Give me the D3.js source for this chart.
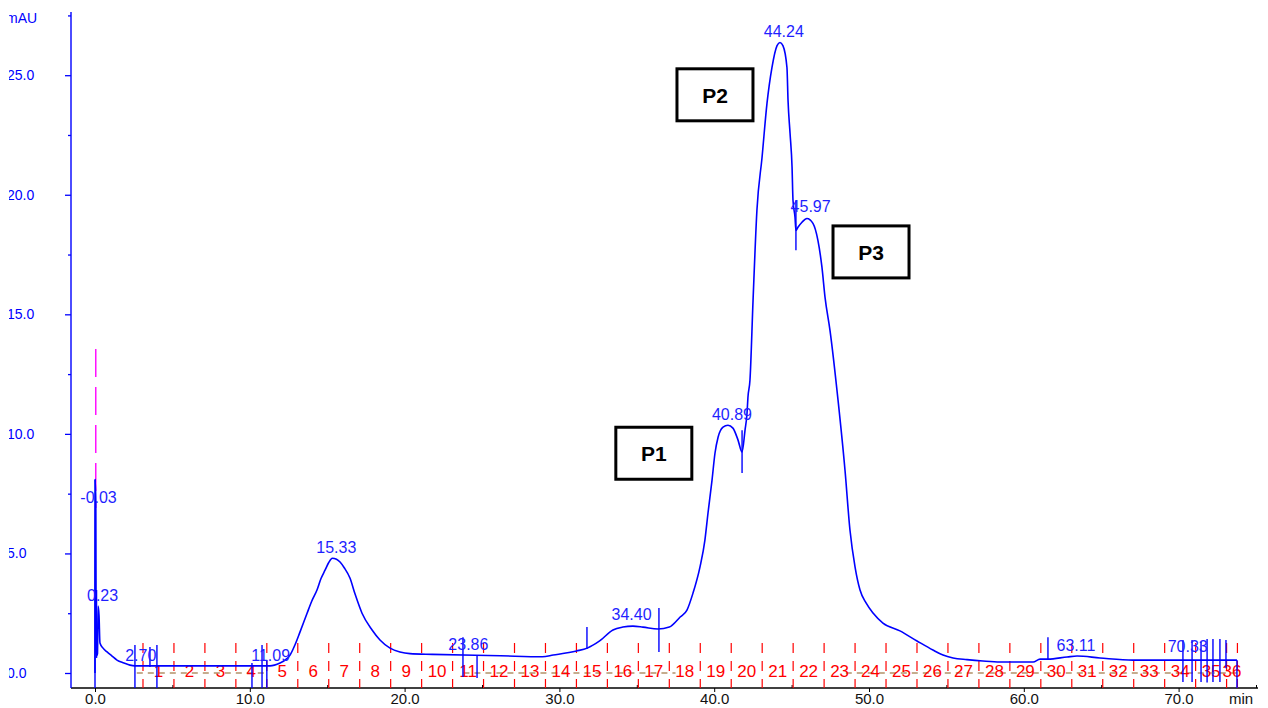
<!DOCTYPE html>
<html>
<head>
<meta charset="utf-8">
<script src="https://cdn.jsdelivr.net/npm/d3@7"></script>
<style>
  body { margin: 0; background: #fff; }
  svg { display: block; font-family: 'Liberation Sans', Arial, sans-serif; }
</style>
</head>
<body>
<div id="chart"></div>
<script>
// chromatogram trace: [time (min), absorbance (mAU)]
const signalPoints = [
  [0, 0], [0.01, 8.1], [0.05, 7.2], [0.08, 0.7], [0.16, 0.8], [0.2, 2.8], [0.26, 2.4],
  [0.32, 1.25], [0.52, 1.04], [0.78, 0.88], [1.1, 0.71], [1.42, 0.54], [1.87, 0.42],
  [2.26, 0.33], [2.58, 0.3], [11.3, 0.3], [11.95, 0.42], [12.3, 0.55], [12.6, 0.75],
  [12.9, 1.15], [13.24, 1.71], [13.7, 2.5], [14.0, 3.0], [14.34, 3.47], [14.6, 3.95],
  [14.86, 4.3], [15.1, 4.62], [15.33, 4.8], [15.6, 4.76], [15.83, 4.64], [16.1, 4.4],
  [16.47, 3.97], [16.8, 3.3], [17.25, 2.5], [17.9, 1.8], [18.41, 1.38], [19.06, 1.04],
  [19.7, 0.88], [20.35, 0.81], [21.8, 0.78], [26.2, 0.72], [28.9, 0.68], [29.6, 0.75],
  [31.1, 0.92], [31.8, 1.04], [32.6, 1.34], [33.46, 1.8], [34.1, 1.92], [34.75, 1.96],
  [35.4, 1.92], [36.37, 1.84], [37.1, 1.92], [37.8, 2.34], [38.24, 2.63], [38.63, 3.34],
  [39.08, 4.43], [39.4, 5.56], [39.6, 6.69], [39.86, 8.07], [40.05, 9.19], [40.25, 9.86],
  [40.57, 10.28], [40.89, 10.36], [41.21, 10.24], [41.54, 9.74], [41.8, 9.24], [41.99, 10.15],
  [42.12, 10.86], [42.18, 11.53], [42.31, 12.24], [42.51, 15.59], [42.76, 19.35], [43.09, 21.56],
  [43.41, 23.82], [43.73, 25.32], [44.06, 26.24], [44.25, 26.37], [44.44, 26.24], [44.7, 25.32],
  [44.77, 23.94], [44.9, 22.57], [45.03, 21.14], [45.09, 19.77], [45.22, 19.06], [45.28, 18.51],
  [45.41, 18.64], [45.67, 18.85], [45.99, 19.01], [46.38, 18.8], [46.7, 18.09], [46.96, 16.97],
  [47.16, 15.71], [47.48, 14.33], [48.0, 11.41], [48.45, 8.48], [48.77, 5.98], [49.1, 4.43],
  [49.42, 3.47], [49.81, 2.93], [50.26, 2.51], [50.9, 2.09], [52.0, 1.76], [53.1, 1.34],
  [54.13, 0.96], [54.78, 0.75], [55.43, 0.63], [56.33, 0.56], [57.36, 0.5], [58.46, 0.46],
  [60.6, 0.46], [61.05, 0.58], [61.56, 0.58], [62.8, 0.67], [63.44, 0.71], [64.92, 0.63],
  [67.05, 0.54], [73.77, 0.54]
];

// peak retention-time labels: [text, time, label baseline (mAU)]
const peakLabels = [
  ['-0.03', -0.03, 7.1], ['0.23', 0.23, 3.0], ['2.70', 2.70, 0.5], ['11.09', 11.09, 0.5],
  ['15.33', 15.33, 5.0], ['23.86', 23.86, 0.96], ['34.40', 34.40, 2.2], ['40.89', 40.89, 10.57],
  ['44.24', 44.24, 26.6], ['45.97', 45.97, 19.26], ['63.11', 63.11, 0.92], ['70.33', 70.33, 0.88]
];

// integration tick marks: [time, top (mAU), bottom (mAU)]
const peakMarks = [
  [0.0, 8.1, -0.63], [0.1, 3.47, 0.63], [2.58, 1.17, -0.63], [3.55, 1.09, 0.25], [4.0, 1.17, -0.63],
  [10.14, 0.42, -0.63], [10.79, 1.17, -0.63], [11.1, 0.54, -0.63], [23.77, 1.5, -0.17],
  [24.68, 0.75, -0.21], [31.78, 1.92, 1.0], [36.43, 2.72, 0.88], [41.8, 10.15, 8.36],
  [45.28, 19.77, 17.68], [61.56, 1.5, 0.54], [70.28, 1.38, -0.38], [70.87, 1.38, -0.38],
  [71.45, 1.3, -0.38], [71.84, 1.42, -0.4], [72.22, 1.42, -0.38], [72.67, 1.42, -0.38],
  [73.06, 1.38, 0.2], [73.77, 0.54, -0.63]
];

// injection event marker: [time, top, bottom]
const eventMark = [0.05, 13.55, 6.9];

// fraction collector
const fractionStarts = [3.1, 5.1, 7.1, 9.1, 11.1, 13.1, 15.1, 17.1, 19.1, 21.1, 23.1, 25.1,
  27.1, 29.1, 31.1, 33.1, 35.1, 37.1, 39.1, 41.1, 43.1, 45.1, 47.1, 49.1, 51.1, 53.1,
  55.1, 57.1, 59.1, 61.1, 63.1, 65.1, 67.1, 69.1, 71.1, 73.1];
const fractionEnd = 73.8;
const fractionNames = ['1', '2', '3', '4', '5', '6', '7', '8', '9', '10', '11', '12', '13', '14',
  '15', '16', '17', '18', '19', '20', '21', '22', '23', '24', '25', '26', '27', '28', '29', '30',
  '31', '32', '33', '34', '35', '36'];

// integration baselines (time ranges at 0 mAU)
const baselineRanges = [[2.7, 11.1], [23.8, 37.5], [48.5, 73.8]];

// boxed annotations
const boxNames = ['P1', 'P2', 'P3'];
const boxTimes = [36.1, 40.05, 50.13];
const boxLevels = [9.19, 24.18, 17.61];

// axes
const xMajor = [0, 10, 20, 30, 40, 50, 60, 70];
const xTickLabels = ['0.0', '10.0', '20.0', '30.0', '40.0', '50.0', '60.0', '70.0'];
const xMinor = [5, 15, 25, 35, 45, 55, 65, 75];
const yMajor = [0, 5, 10, 15, 20, 25];
const yTickLabels = ['0.0', '5.0', '10.0', '15.0', '20.0', '25.0'];
const yMinor = [2.5, 7.5, 12.5, 17.5, 22.5, 27.5];

const width = 1268, height = 708;
const axisX = 71, axisY = 688, axisTop = 12;
const blue = '#0000ff';

const x = d3.scaleLinear().domain([0, 75]).range([95, 1256]);
const y = d3.scaleLinear().domain([0, 25]).range([673, 75.2]);

const svg = d3.select('#chart')
  .append('svg')
  .attr('width', width)
  .attr('height', height);

svg.append('rect').attr('width', width).attr('height', height).attr('fill', '#fff');

// clip for the y labels (left edge of the original screenshot is cut)
svg.append('clipPath').attr('id', 'leftcut')
  .append('rect').attr('x', 9).attr('y', 0).attr('width', 60).attr('height', height);

// x axis
svg.append('line')
  .attr('x1', axisX).attr('x2', x(75) + 2)
  .attr('y1', axisY).attr('y2', axisY)
  .attr('stroke', '#000').attr('stroke-width', 1.4);

const xAxis = svg.append('g')
  .attr('transform', 'translate(0,' + axisY + ')')
  .call(d3.axisBottom(x).tickValues(xMajor).tickSize(4).tickFormat((d, i) => xTickLabels[i]));
xAxis.select('.domain').remove();
xAxis.selectAll('line').attr('stroke', '#000');
xAxis.selectAll('text')
  .attr('y', 16).attr('dy', 0)
  .style('font-size', '15px')
  .attr('fill', '#111');

const xAxisMinor = svg.append('g')
  .attr('transform', 'translate(0,' + axisY + ')')
  .call(d3.axisBottom(x).tickValues(xMinor).tickSize(-3).tickFormat(''));
xAxisMinor.select('.domain').remove();
xAxisMinor.selectAll('line').attr('stroke', '#000');

svg.append('text')
  .attr('x', 1229).attr('y', 704)
  .style('font-size', '15px')
  .attr('fill', '#111')
  .text('min');

// y axis
svg.append('line')
  .attr('x1', axisX).attr('x2', axisX)
  .attr('y1', axisTop).attr('y2', axisY)
  .attr('stroke', blue).attr('stroke-width', 1.4);

const yAxis = svg.append('g')
  .attr('transform', 'translate(' + axisX + ',0)')
  .call(d3.axisLeft(y).tickValues(yMajor).tickSize(6).tickFormat(''));
yAxis.select('.domain').remove();
yAxis.selectAll('line').attr('stroke', blue).attr('stroke-width', 1.3);

const yAxisMinor = svg.append('g')
  .attr('transform', 'translate(' + axisX + ',0)')
  .call(d3.axisLeft(y).tickValues(yMinor).tickSize(3).tickFormat(''));
yAxisMinor.select('.domain').remove();
yAxisMinor.selectAll('line').attr('stroke', blue).attr('stroke-width', 1.3);

const yLabels = svg.append('g').attr('clip-path', 'url(#leftcut)');
yLabels.selectAll('text')
  .data(yMajor)
  .enter()
  .append('text')
  .attr('x', 7)
  .attr('y', (d) => y(d) + 5)
  .style('font-size', '14px')
  .attr('fill', blue)
  .text((d, i) => yTickLabels[i]);
yLabels.append('text')
  .attr('x', 6).attr('y', 23)
  .style('font-size', '14px')
  .attr('fill', blue)
  .text('mAU');

// fraction collector marks
const fracBounds = fractionStarts.concat([fractionEnd]);
svg.append('g')
  .selectAll('line')
  .data(fracBounds)
  .enter()
  .append('line')
  .attr('x1', (d) => x(d)).attr('x2', (d) => x(d))
  .attr('y1', y(1.25)).attr('y2', axisY)
  .attr('stroke', '#ff0000')
  .attr('stroke-width', 1.2)
  .attr('stroke-dasharray', '10,8');

svg.append('g')
  .selectAll('line')
  .data(baselineRanges)
  .enter()
  .append('line')
  .attr('x1', (d) => x(d[0])).attr('x2', (d) => x(d[1]))
  .attr('y1', y(0)).attr('y2', y(0))
  .attr('stroke', '#8c5a1e')
  .attr('stroke-width', 1.2)
  .attr('stroke-dasharray', '6,5');

svg.append('g')
  .selectAll('text')
  .data(fractionNames)
  .enter()
  .append('text')
  .attr('x', (d, i) => x((fracBounds[i] + fracBounds[i + 1]) / 2))
  .attr('y', y(-0.17))
  .attr('text-anchor', 'middle')
  .style('font-size', '17px')
  .attr('fill', '#ff0000')
  .text((d) => d);

// injection event marker
svg.append('line')
  .attr('x1', x(eventMark[0])).attr('x2', x(eventMark[0]))
  .attr('y1', y(eventMark[1])).attr('y2', y(eventMark[2]))
  .attr('stroke', '#ff00ff')
  .attr('stroke-width', 1.4)
  .attr('stroke-dasharray', '28,10');

// peak tick marks
svg.append('g')
  .selectAll('line')
  .data(peakMarks)
  .enter()
  .append('line')
  .attr('x1', (d) => x(d[0])).attr('x2', (d) => x(d[0]))
  .attr('y1', (d) => y(d[1])).attr('y2', (d) => y(d[2]))
  .attr('stroke', blue)
  .attr('stroke-width', 1.4);

// signal
const line = d3.line()
  .curve(d3.curveMonotoneX)
  .x((d) => x(d[0]))
  .y((d) => y(d[1]));

svg.append('path')
  .datum(signalPoints)
  .attr('fill', 'none')
  .attr('stroke', blue)
  .attr('stroke-width', 1.6)
  .attr('stroke-linejoin', 'round')
  .attr('d', line);

// retention-time labels
svg.append('g')
  .selectAll('text')
  .data(peakLabels)
  .enter()
  .append('text')
  .attr('x', (d) => x(d[1]) + 4)
  .attr('y', (d) => y(d[2]))
  .attr('text-anchor', 'middle')
  .style('font-size', '16px')
  .attr('fill', '#1f1fff')
  .text((d) => d[0]);

// boxed annotations
const boxW = 76, boxH = 52;
const boxes = svg.append('g')
  .selectAll('g')
  .data(boxNames)
  .enter()
  .append('g')
  .attr('transform', (d, i) => 'translate(' + x(boxTimes[i]) + ',' + y(boxLevels[i]) + ')');

boxes.append('rect')
  .attr('x', -boxW / 2).attr('y', -boxH / 2)
  .attr('width', boxW).attr('height', boxH)
  .attr('fill', '#fff')
  .attr('stroke', '#000')
  .attr('stroke-width', 3);

boxes.append('text')
  .attr('text-anchor', 'middle')
  .attr('y', 8)
  .style('font-size', '21px')
  .style('font-weight', 'bold')
  .attr('fill', '#000')
  .text((d) => d);
</script>
</body>
</html>
